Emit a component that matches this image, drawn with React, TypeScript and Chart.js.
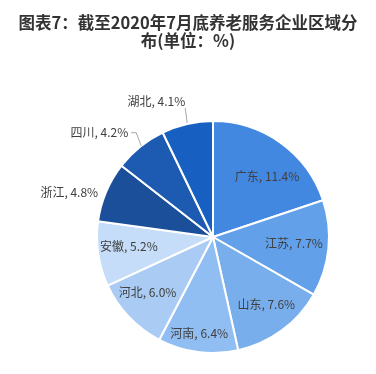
import React, { useEffect, useRef } from "react";
import { Chart, registerables } from "chart.js";

Chart.register(...registerables);

const regions = ["广东", "江苏", "山东", "河南", "河北", "安徽", "浙江", "四川", "湖北"];
const shares = [11.4, 7.7, 7.6, 6.4, 6.0, 5.2, 4.8, 4.2, 4.1];
const sliceColors = [
  "#4287E0", "#62A0EA", "#78AEEC", "#91BEF2", "#AACCF4", "#C5DDF8",
  "#1B4F9A", "#1D5BB3", "#1760C2",
];
const titleLines = ["图表7：截至2020年7月底养老服务企业区域分", "布(单位：%)"];

// label placement styles: inside => radial fraction + angle shift (deg); outside => offset from edge
type LabelStyle =
  | { kind: "in"; r: number; da: number }
  | { kind: "out"; dx: number; dy: number; leader: "none" | "elbow" | "vertical" };
const labelStyles: LabelStyle[] = [
  { kind: "in", r: 0.7, da: 6 },
  { kind: "in", r: 0.7, da: -1.4 },
  { kind: "in", r: 0.74, da: -2 },
  { kind: "in", r: 0.84, da: 0.6 },
  { kind: "in", r: 0.74, da: 3.3 },
  { kind: "in", r: 0.73, da: 1.8 },
  { kind: "out", dx: -8, dy: 1, leader: "none" },
  { kind: "out", dx: -12, dy: -14, leader: "elbow" },
  { kind: "out", dx: -2, dy: -22, leader: "vertical" },
];

const titlePlugin = {
  id: "wideTitle",
  afterDraw(chart: any) {
    const ctx = chart.ctx;
    ctx.save();
    ctx.font = 'bold 16.5px "Noto Sans CJK SC", sans-serif';
    ctx.fillStyle = "#333333";
    ctx.textAlign = "center";
    ctx.textBaseline = "middle";
    titleLines.forEach((line, i) => {
      ctx.fillText(line, chart.width / 2, 23 + i * 18);
    });
    ctx.restore();
  },
};

const labelPlugin = {
  id: "sliceLabels",
  afterDatasetsDraw(chart: any) {
    const ctx = chart.ctx;
    const meta = chart.getDatasetMeta(0);
    ctx.save();
    ctx.font = '12px "Noto Sans CJK SC", "Noto Sans", sans-serif';
    ctx.fillStyle = "#404040";
    ctx.textBaseline = "middle";
    meta.data.forEach((arc: any, i: number) => {
      const { x, y, startAngle, endAngle, outerRadius } = arc.getProps(
        ["x", "y", "startAngle", "endAngle", "outerRadius"],
        true
      );
      const text = `${regions[i]}, ${shares[i].toFixed(1)}%`;
      const st = labelStyles[i];
      const mid = (startAngle + endAngle) / 2;
      if (st.kind === "in") {
        const a = mid + (st.da * Math.PI) / 180;
        const r = outerRadius * st.r;
        ctx.textAlign = "center";
        ctx.fillText(text, x + Math.cos(a) * r, y + Math.sin(a) * r);
      } else {
        const ex = x + Math.cos(mid) * outerRadius;
        const ey = y + Math.sin(mid) * outerRadius;
        const tx = ex + st.dx;
        const ty = ey + st.dy;
        ctx.strokeStyle = "#A6A6A6";
        ctx.lineWidth = 1;
        if (st.leader === "elbow") {
          ctx.beginPath();
          ctx.moveTo(tx + 3, ty);
          ctx.lineTo(tx + 8, ty);
          ctx.lineTo(ex + 1, ey - 1);
          ctx.stroke();
        } else if (st.leader === "vertical") {
          ctx.beginPath();
          ctx.moveTo(ex - 2, ty + 6);
          ctx.lineTo(ex, ey - 1);
          ctx.stroke();
        }
        ctx.textAlign = "right";
        ctx.fillText(text, tx, ty);
      }
    });
    ctx.restore();
  },
};

export default function App() {
  const ref = useRef<HTMLCanvasElement | null>(null);
  useEffect(() => {
    document.body.style.margin = "0";
    const chart = new Chart(ref.current!, {
      type: "pie",
      data: {
        labels: regions,
        datasets: [
          {
            data: shares,
            backgroundColor: sliceColors,
            borderColor: "#FFFFFF",
            borderWidth: 2,
          },
        ],
      },
      options: {
        animation: false,
        responsive: false,
        layout: { padding: { left: 96, right: 46, top: 120, bottom: 20 } },
        plugins: {
          legend: { display: false },
          tooltip: { enabled: false },
          title: { display: false },
        },
      },
      plugins: [labelPlugin, titlePlugin],
    });
    return () => chart.destroy();
  }, []);
  return (
    <div style={{ width: 376, height: 374, background: "#fff" }}>
      <canvas ref={ref} width={376} height={374} style={{ width: 376, height: 374 }} />
    </div>
  );
}
